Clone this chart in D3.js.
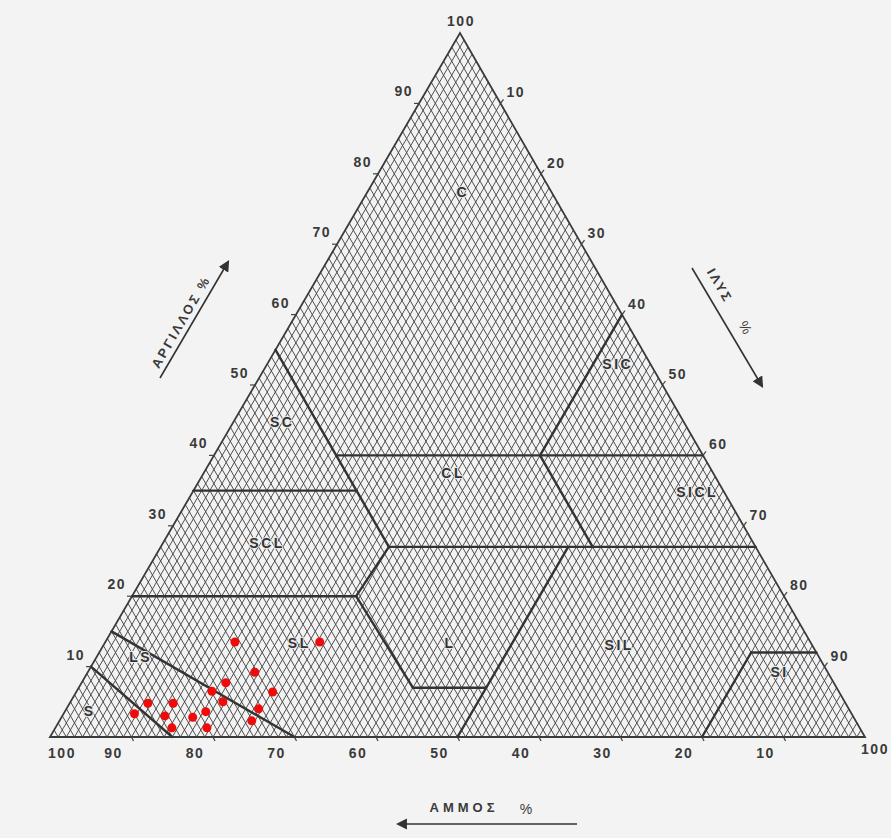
<!DOCTYPE html>
<html>
<head>
<meta charset="utf-8">
<style>
  body { margin: 0; background: #f3f3f3; }
  svg text { font-family: "Liberation Sans", Arial, sans-serif; fill: #3a3a3a; }
</style>
</head>
<body>
<script src="https://cdn.jsdelivr.net/npm/d3@7"></script>
<div id="chart"></div>
<script>
    const width = 891
    const height = 838

    // tick values on each side
    const clayTicks = [10, 20, 30, 40, 50, 60, 70, 80, 90]
    const siltTicks = [10, 20, 30, 40, 50, 60, 70, 80, 90]
    const sandTicks = [90, 80, 70, 60, 50, 40, 30, 20, 10]

    // texture class boundaries, as [clay, silt] end points
    const boundaryFrom = [[0, 15], [0, 30], [20, 0], [20, 27.5], [7, 41], [0, 50], [20, 27.5], [27, 28], [27, 28], [35, 0], [40, 15], [27, 53], [40, 40], [0, 80], [12, 80]]
    const boundaryTo = [[10, 0], [15, 0], [20, 27.5], [7, 41], [7, 50], [27, 50], [27, 28], [27, 73], [55, 0], [35, 20], [40, 60], [40, 40], [60, 40], [12, 80], [12, 88]]

    // class names and where they sit, [clay, silt]
    const classNames = ["C", "SIC", "SC", "CL", "SICL", "SCL", "L", "SL", "SIL", "LS", "S", "SI"]
    const classAt = [[77.4, 11.7], [53, 43], [44.7, 6], [37.5, 30.6], [34.8, 61.9], [27.5, 12.8], [13.3, 42.4], [13.3, 23.9], [13, 63.3], [11.4, 5.4], [3.7, 3], [9.2, 84.9]]

    // samples: clay % and silt % (sand is the rest)
    const sampleClay = [13.5, 13.5, 9.2, 7.7, 6.5, 6.4, 5.0, 4.0, 4.8, 4.8, 3.3, 3.0, 2.8, 3.6, 2.3, 1.3, 1.3]
    const sampleSilt = [15.9, 26.3, 20.5, 17.7, 16.6, 24.1, 18.7, 23.6, 9.6, 12.7, 8.7, 12.6, 16.1, 17.3, 23.6, 14.3, 18.6]

    const leftX = 50, rightX = 865, baseY = 737, apexY = 33, apexX = 460

    const yScale = d3.scaleLinear().domain([0, 100]).range([baseY, apexY])
    const xScale = d3.scaleLinear().domain([0, 100]).range([leftX, rightX])

    // clay, silt -> pixel
    const project = (clay, silt) => {
        const x = xScale(silt) + (apexX - leftX) * clay / 100
        return [x, yScale(clay)]
    }

    const svg = d3.select("#chart").append("svg")
        .attr("width", width).attr("height", height)

    // hatching: 1% grid lines parallel to the two sloping sides
    const hatch = svg.append("g").attr("stroke", "#474747").attr("stroke-width", 0.95)
    d3.range(1, 100).forEach(v => {
        // constant silt
        const a = project(0, v), b = project(100 - v, v)
        hatch.append("line").attr("x1", a[0]).attr("y1", a[1]).attr("x2", b[0]).attr("y2", b[1])
        // constant sand
        const c = project(0, 100 - v), d = project(100 - v, 0)
        hatch.append("line").attr("x1", c[0]).attr("y1", c[1]).attr("x2", d[0]).attr("y2", d[1])
    })

    // outline
    const corners = [project(0, 0), project(0, 100), project(100, 0)]
    svg.append("polygon")
        .attr("points", corners.map(p => p.join(",")).join(" "))
        .attr("fill", "none").attr("stroke", "#3a3a3a").attr("stroke-width", 1.8)

    // class boundaries
    svg.append("g").selectAll("line")
        .data(boundaryFrom.map((f, i) => [f, boundaryTo[i]]))
        .enter().append("line")
        .attr("x1", d => project(d[0][0], d[0][1])[0])
        .attr("y1", d => project(d[0][0], d[0][1])[1])
        .attr("x2", d => project(d[1][0], d[1][1])[0])
        .attr("y2", d => project(d[1][0], d[1][1])[1])
        .attr("stroke", "#333").attr("stroke-width", 2.4).attr("stroke-linecap", "round")

    // class names
    svg.append("g").selectAll("text")
        .data(classNames)
        .enter().append("text")
        .attr("x", (d, i) => project(classAt[i][0], classAt[i][1])[0])
        .attr("y", (d, i) => project(classAt[i][0], classAt[i][1])[1] + 5)
        .attr("text-anchor", "middle")
        .attr("font-size", 14).attr("font-weight", "bold")
        .attr("letter-spacing", 2.5)
        .style("fill", "#333")
        .style("paint-order", "stroke")
        .style("stroke", "#e8e8e8").style("stroke-width", 2)
        .text(d => d)

    // ticks + labels
    const ticks = svg.append("g").attr("stroke", "#444").attr("stroke-width", 1.2)
    const labels = svg.append("g").attr("font-size", 14).attr("font-weight", "bold").attr("letter-spacing", 1.5)

    clayTicks.forEach(v => {
        const p = project(v, 0)
        ticks.append("line").attr("x1", p[0]).attr("y1", p[1]).attr("x2", p[0] - 5).attr("y2", p[1])
        labels.append("text").attr("x", p[0] - 6).attr("y", p[1] - 7)
            .attr("text-anchor", "end").text(v)
    })
    siltTicks.forEach(v => {
        const p = project(100 - v, v)
        ticks.append("line").attr("x1", p[0]).attr("y1", p[1]).attr("x2", p[0] + 3).attr("y2", p[1] - 4)
        labels.append("text").attr("x", p[0] + 6).attr("y", p[1] - 6)
            .attr("text-anchor", "start").text(v)
    })
    sandTicks.forEach(v => {
        const p = project(0, 100 - v)
        ticks.append("line").attr("x1", p[0]).attr("y1", p[1]).attr("x2", p[0] + 2).attr("y2", p[1] + 4)
        labels.append("text").attr("x", p[0] - 18).attr("y", p[1] + 21)
            .attr("text-anchor", "middle").text(v)
    })
    // corner labels
    const topP = project(100, 0), leftP = project(0, 0), rightP = project(0, 100)
    labels.append("text").attr("x", topP[0] + 1).attr("y", topP[1] - 7).attr("text-anchor", "middle").text(100)
    labels.append("text").attr("x", leftP[0] + 12).attr("y", leftP[1] + 21).attr("text-anchor", "middle").text(100)
    labels.append("text").attr("x", rightP[0] + 10).attr("y", rightP[1] + 17).attr("text-anchor", "middle").text(100)

    // axis titles with arrows
    const defs = svg.append("defs")
    defs.append("marker").attr("id", "head")
        .attr("viewBox", "0 0 10 10").attr("refX", 8).attr("refY", 5)
        .attr("markerWidth", 7).attr("markerHeight", 7).attr("orient", "auto")
        .append("path").attr("d", "M0,0 L10,5 L0,10 z").attr("fill", "#333")

    const arrow = (x1, y1, x2, y2) => svg.append("line")
        .attr("x1", x1).attr("y1", y1).attr("x2", x2).attr("y2", y2)
        .attr("stroke", "#333").attr("stroke-width", 1.6)
        .attr("marker-end", "url(#head)")

    arrow(160, 378, 228, 262)
    svg.append("text")
        .attr("transform", "translate(185,324) rotate(-60)")
        .attr("text-anchor", "middle").attr("font-size", 13).attr("font-weight", "bold")
        .attr("letter-spacing", 2.5)
        .text("ΑΡΓΙΛΛΟΣ %")

    arrow(692, 268, 762, 386)
    svg.append("text")
        .attr("transform", "translate(716,288) rotate(60)")
        .attr("text-anchor", "middle").attr("font-size", 13).attr("font-weight", "bold")
        .attr("letter-spacing", 2.5)
        .text("ΙΛΥΣ")
    svg.append("text")
        .attr("transform", "translate(741,330) rotate(60)")
        .attr("text-anchor", "middle").attr("font-size", 14)
        .text("%")

    arrow(577, 824, 398, 824)
    svg.append("text").attr("x", 464).attr("y", 812)
        .attr("text-anchor", "middle").attr("font-size", 13).attr("font-weight", "bold")
        .attr("letter-spacing", 4)
        .text("ΑΜΜΟΣ")
    svg.append("text").attr("x", 526).attr("y", 814)
        .attr("text-anchor", "middle").attr("font-size", 14)
        .text("%")

    // samples
    svg.append("g").selectAll("circle")
        .data(sampleClay.map((c, i) => [c, sampleSilt[i]]))
        .enter().append("circle")
        .attr("cx", d => project(d[0], d[1])[0])
        .attr("cy", d => project(d[0], d[1])[1])
        .attr("r", 4.5)
        .attr("fill", "#f00a0a")
</script>
</body>
</html>
